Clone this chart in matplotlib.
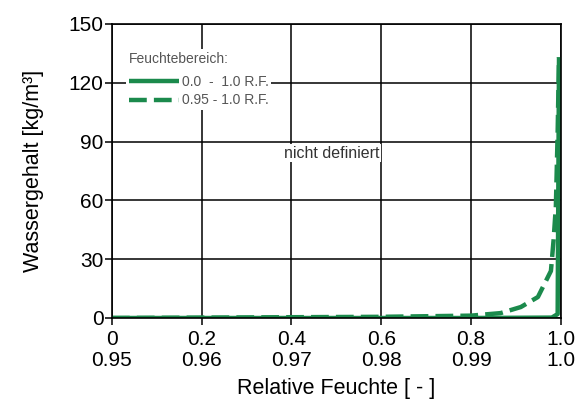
import matplotlib
matplotlib.use("Agg")
import matplotlib.pyplot as plt

plt.rcParams['font.family'] = ['Liberation Sans', 'DejaVu Sans']

# Data (x on 0..1 primary scale)
solid_x = [0.0, 0.2, 0.4, 0.6, 0.8, 0.98, 0.993, 0.996]
solid_y = [0.0, 0.0, 0.0, 0.0, 0.0, 0.2, 2.0, 133.0]
dash_x = [0.0, 0.3, 0.6, 0.8, 0.866, 0.911, 0.949, 0.978, 0.984, 0.989, 0.993, 0.996]
dash_y = [0.0, 0.3, 0.6, 1.2, 2.5, 5.6, 10.7, 24.0, 40.0, 57.0, 95.0, 133.0]

xticks = [0.0, 0.2, 0.4, 0.6, 0.8, 1.0]
xlabels_top = ['0', '0.2', '0.4', '0.6', '0.8', '1.0']
xlabels_bot = ['0.95', '0.96', '0.97', '0.98', '0.99', '1.0']
yticks = [0, 30, 60, 90, 120, 150]

green = '#1b8a4c'

fig = plt.figure(figsize=(5.86, 4.08), dpi=100)
ax = fig.add_axes([0.191, 0.2206, 0.766, 0.7206])

ax.plot(solid_x, solid_y, color=green, lw=3.2, solid_capstyle='butt', label='0.0  -  1.0 R.F.')
ax.plot(dash_x, dash_y, color=green, lw=3.2, ls=(0, (4, 1.6)), label='0.95 - 1.0 R.F.')

ax.set_xlim(0, 1.0)
ax.set_ylim(0, 150)
ax.set_xticks(xticks)
ax.set_xticklabels([f'{a}\n{b}' for a, b in zip(xlabels_top, xlabels_bot)], fontsize=15, linespacing=1.1)
ax.set_yticks(yticks)
ax.set_yticklabels([str(v) for v in yticks], fontsize=15)
ax.grid(True, color='black', lw=1.1)
ax.set_axisbelow(True)
ax.tick_params(direction='out', length=5, width=1.1, color='black', pad=1)
ax.tick_params(axis='x', pad=4)
for s in ax.spines.values():
    s.set_linewidth(1.2)
    s.set_color('black')

ax.set_xlabel('Relative Feuchte [ - ]', fontsize=15.5, labelpad=6)
ax.set_ylabel('Wassergehalt [kg/m³]', fontsize=15.5, labelpad=18)

ax.text(0.49, 84, 'nicht definiert', fontsize=11.5, ha='center', va='center', color='#333333',
        bbox=dict(facecolor='white', edgecolor='none', pad=1))

leg = ax.legend(loc='upper left', bbox_to_anchor=(0.022, 0.93), frameon=True, fontsize=10,
                title='Feuchtebereich:', title_fontsize=10, handlelength=3.6, borderaxespad=0.3,
                borderpad=0.2, labelspacing=0.3, handletextpad=0.2)
leg.get_frame().set_facecolor('white')
leg.get_frame().set_edgecolor('none')
leg.get_frame().set_alpha(1.0)
leg._legend_box.align = 'left'
leg._legend_box.sep = 7
for t in leg.get_texts():
    t.set_color('#555555')
leg.get_title().set_color('#555555')

fig.savefig('out.png', dpi=100)
